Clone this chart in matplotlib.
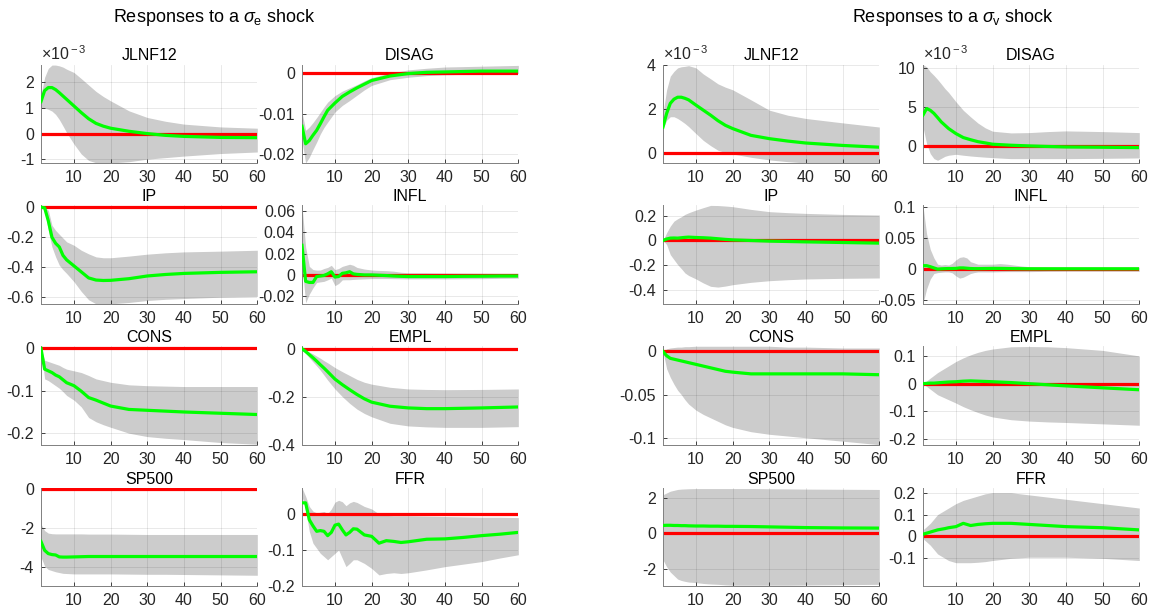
import matplotlib
matplotlib.use('Agg')
import matplotlib.pyplot as plt
from matplotlib.ticker import FuncFormatter

plt.rcParams['font.family'] = ['Liberation Sans', 'DejaVu Sans']
plt.rcParams['mathtext.fontset'] = 'custom'
plt.rcParams['mathtext.rm'] = 'Liberation Sans'
plt.rcParams['mathtext.it'] = 'Liberation Sans:italic'
plt.rcParams['axes.unicode_minus'] = False

h_coarse = [1, 2, 3, 4, 5, 6, 7, 8, 10, 12, 14, 16, 18, 20, 25, 30, 35, 40, 50, 60]
h_fine = [1, 2, 3, 4, 5, 6, 7, 8, 9, 10, 11, 12, 13, 14, 15, 16,
          18, 20, 22, 24, 26, 28, 30, 35, 40, 45, 50, 55, 60]

# ---- Responses to a sigma_e shock ----
# JLNF12 (units of 1e-3)
jlnf_e_med = [1.25, 1.68, 1.80, 1.80, 1.72, 1.60, 1.47, 1.34, 1.08, 0.82, 0.58, 0.40, 0.29, 0.21, 0.09, 0.0, -0.07, -0.11, -0.15, -0.16]
jlnf_e_hi = [1.5, 2.2, 2.55, 2.68, 2.68, 2.65, 2.6, 2.52, 2.39, 2.15, 1.9, 1.65, 1.45, 1.28, 0.89, 0.63, 0.48, 0.37, 0.26, 0.21]
jlnf_e_lo = [1.0, 1.0, 0.95, 0.88, 0.75, 0.55, 0.30, 0.04, -0.41, -0.80, -1.05, -1.14, -1.15, -1.15, -1.1, -1.0, -0.94, -0.88, -0.78, -0.72]
# DISAG
disag_e_med = [-0.0131, -0.0174, -0.0166, -0.0153, -0.0141, -0.0125, -0.0108, -0.0092, -0.0074, -0.0058, -0.0047, -0.0037, -0.0028, -0.0019, -0.0008, -0.0002, 0.0001, 0.0002, 0.0004, 0.0004]
disag_e_hi = [-0.0096, -0.0141, -0.0133, -0.0122, -0.0110, -0.0097, -0.0084, -0.0072, -0.0056, -0.0045, -0.0037, -0.0029, -0.0020, -0.0012, -0.0001, 0.0007, 0.0011, 0.0014, 0.0016, 0.0018]
disag_e_lo = [-0.0166, -0.0221, -0.0207, -0.0188, -0.0170, -0.0150, -0.0134, -0.0121, -0.0096, -0.0080, -0.0068, -0.0055, -0.0042, -0.0031, -0.0017, -0.0011, -0.0007, -0.0005, -0.0003, -0.0002]
# IP
ip_e_med = [0, -0.004, -0.09, -0.20, -0.24, -0.264, -0.32, -0.35, -0.39, -0.43, -0.47, -0.484, -0.487, -0.486, -0.475, -0.457, -0.447, -0.44, -0.433, -0.429]
ip_e_hi = [0, -0.002, -0.02, -0.12, -0.154, -0.18, -0.205, -0.23, -0.253, -0.286, -0.31, -0.33, -0.336, -0.336, -0.325, -0.312, -0.303, -0.297, -0.292, -0.286]
ip_e_lo = [0, -0.01, -0.154, -0.264, -0.33, -0.385, -0.415, -0.44, -0.495, -0.56, -0.615, -0.642, -0.642, -0.642, -0.633, -0.62, -0.612, -0.607, -0.598, -0.593]
# INFL (fine horizons)
infl_e_med = [0.0277, -0.006, -0.007, -0.007, -0.0015, -0.001, -0.0005, 0.001, 0.003, -0.002, -0.0015, 0.0015, 0.002, 0.003, 0.001, 0.0005,
              0.0, 0.0, -0.0003, -0.0006, -0.001, -0.0013, -0.0015, -0.0015, -0.0015, -0.0013, -0.0012, -0.001, -0.001]
infl_e_hi = [0.065, 0.026, 0.008, 0.005, 0.0045, 0.0046, 0.006, 0.007, 0.009, 0.005, 0.006, 0.008, 0.009, 0.010, 0.009, 0.007,
             0.0055, 0.0046, 0.0042, 0.004, 0.0035, 0.0025, 0.002, 0.002, 0.0018, 0.0017, 0.0016, 0.0015, 0.0015]
infl_e_lo = [0.010, -0.026, -0.018, -0.012, -0.007, -0.0065, -0.006, -0.0046, -0.003, -0.010, -0.008, -0.0046, -0.0045, -0.0045, -0.0042, -0.004,
             -0.0037, -0.0034, -0.0034, -0.0034, -0.0035, -0.0036, -0.0037, -0.0037, -0.0037, -0.0036, -0.0035, -0.0032, -0.003]
# CONS
cons_e_med = [0, -0.049, -0.053, -0.057, -0.063, -0.067, -0.074, -0.081, -0.088, -0.101, -0.116, -0.122, -0.129, -0.136, -0.144, -0.146, -0.148, -0.150, -0.153, -0.156]
cons_e_hi = [0, -0.028, -0.031, -0.034, -0.037, -0.040, -0.045, -0.049, -0.053, -0.057, -0.064, -0.072, -0.076, -0.080, -0.086, -0.088, -0.089, -0.090, -0.090, -0.090]
cons_e_lo = [0, -0.072, -0.076, -0.082, -0.088, -0.094, -0.102, -0.111, -0.122, -0.138, -0.163, -0.173, -0.180, -0.186, -0.2, -0.208, -0.212, -0.215, -0.222, -0.226]
# EMPL
empl_e_med = [0, -0.012, -0.025, -0.038, -0.052, -0.067, -0.081, -0.096, -0.127, -0.15, -0.171, -0.191, -0.209, -0.223, -0.24, -0.247, -0.25, -0.25, -0.247, -0.243]
empl_e_hi = [0, -0.007, -0.014, -0.022, -0.031, -0.04, -0.05, -0.059, -0.079, -0.096, -0.112, -0.128, -0.14, -0.148, -0.161, -0.168, -0.17, -0.171, -0.17, -0.168]
empl_e_lo = [0, -0.019, -0.038, -0.055, -0.072, -0.09, -0.11, -0.131, -0.168, -0.2, -0.228, -0.252, -0.27, -0.284, -0.311, -0.322, -0.326, -0.328, -0.328, -0.325]
# SP500
sp_e_med = [-2.69, -3.15, -3.32, -3.37, -3.39, -3.49, -3.5, -3.5, -3.49, -3.48, -3.47, -3.47, -3.47, -3.47, -3.47, -3.47, -3.47, -3.47, -3.47, -3.47]
sp_e_hi = [-1.79, -2.13, -2.26, -2.29, -2.3, -2.3, -2.3, -2.3, -2.3, -2.3, -2.31, -2.31, -2.31, -2.31, -2.32, -2.33, -2.33, -2.33, -2.33, -2.33]
sp_e_lo = [-3.49, -3.97, -4.14, -4.2, -4.26, -4.3, -4.34, -4.35, -4.37, -4.37, -4.37, -4.37, -4.37, -4.37, -4.38, -4.39, -4.39, -4.4, -4.42, -4.44]
# FFR (fine horizons)
ffr_e_med = [0.031, 0.031, -0.016, -0.033, -0.048, -0.046, -0.048, -0.06, -0.051, -0.031, -0.028, -0.044, -0.058, -0.051, -0.041, -0.042,
             -0.058, -0.062, -0.081, -0.074, -0.076, -0.079, -0.077, -0.07, -0.069, -0.065, -0.06, -0.056, -0.051]
ffr_e_hi = [0.073, 0.049, 0.021, 0.008, 0.003, 0.005, 0.007, 0.001, 0.014, 0.033, 0.038, 0.034, 0.023, 0.031, 0.035, 0.032,
            0.021, 0.014, 0.0, -0.004, -0.005, -0.005, -0.005, -0.006, -0.007, -0.008, -0.009, -0.009, -0.01]
ffr_e_lo = [0.049, 0.012, -0.048, -0.081, -0.095, -0.109, -0.118, -0.127, -0.118, -0.109, -0.1, -0.123, -0.146, -0.137, -0.127, -0.127,
            -0.137, -0.151, -0.169, -0.165, -0.163, -0.165, -0.163, -0.155, -0.146, -0.139, -0.132, -0.122, -0.113]

# ---- Responses to a sigma_v shock ----
# JLNF12 (units of 1e-3)
jlnf_v_med = [1.18, 1.8, 2.26, 2.45, 2.54, 2.54, 2.49, 2.42, 2.18, 1.95, 1.72, 1.47, 1.26, 1.11, 0.80, 0.65, 0.54, 0.45, 0.34, 0.26]
jlnf_v_hi = [1.8, 2.88, 3.5, 3.72, 3.88, 3.93, 3.95, 3.98, 3.88, 3.6, 3.38, 3.15, 3.0, 2.88, 2.42, 1.95, 1.72, 1.57, 1.37, 1.18]
jlnf_v_lo = [1.1, 1.49, 1.65, 1.65, 1.57, 1.46, 1.34, 1.2, 0.88, 0.57, 0.33, 0.12, 0.02, -0.05, -0.2, -0.32, -0.4, -0.46, -0.46, -0.46]
# DISAG (units of 1e-3)
disag_v_med = [3.97, 4.83, 4.6, 4.2, 3.66, 3.1, 2.67, 2.24, 1.59, 1.08, 0.8, 0.55, 0.39, 0.22, 0.09, 0.0, -0.07, -0.13, -0.17, -0.22]
disag_v_hi = [10.5, 10.2, 9.57, 9.1, 8.58, 8.0, 7.4, 6.9, 5.7, 4.6, 3.75, 2.95, 2.33, 1.9, 1.68, 1.72, 1.85, 1.94, 1.85, 1.72]
disag_v_lo = [2.46, 0.3, -0.99, -1.64, -1.85, -1.6, -1.34, -1.2, -1.08, -1.2, -1.3, -1.38, -1.45, -1.51, -1.64, -1.64, -1.64, -1.64, -1.6, -1.55]
# IP
ip_v_med = [0, 0.012, 0.019, 0.02, 0.019, 0.022, 0.025, 0.027, 0.024, 0.022, 0.019, 0.014, 0.009, 0.005, 0.0, -0.005, -0.008, -0.011, -0.016, -0.021]
ip_v_hi = [0, 0.062, 0.115, 0.155, 0.174, 0.19, 0.209, 0.222, 0.244, 0.263, 0.281, 0.28, 0.276, 0.271, 0.249, 0.231, 0.223, 0.217, 0.209, 0.204]
ip_v_lo = [0, -0.032, -0.113, -0.153, -0.193, -0.225, -0.26, -0.28, -0.308, -0.34, -0.367, -0.373, -0.365, -0.354, -0.335, -0.322, -0.314, -0.308, -0.303, -0.3]
# INFL (fine horizons)
infl_v_med = [0.0056, 0.0056, 0.004, 0.002, 0.0, 0.0005, 0.0008, 0.001, 0.001, 0.0012, 0.002, 0.002, 0.0015, 0.001, 0.0008, 0.0008,
              0.001, 0.0012, 0.0012, 0.001, 0.0008, 0.0007, 0.0006, 0.0006, 0.0006, 0.0006, 0.0006, 0.0006, 0.0006]
infl_v_hi = [0.103, 0.057, 0.032, 0.018, 0.008, 0.0067, 0.0075, 0.0067, 0.0095, 0.015, 0.019, 0.020, 0.018, 0.012, 0.01, 0.008,
             0.008, 0.008, 0.009, 0.008, 0.0065, 0.005, 0.004, 0.0035, 0.0033, 0.0033, 0.0033, 0.0033, 0.0033]
infl_v_lo = [-0.0557, -0.032, -0.016, -0.007, -0.0056, -0.005, -0.0045, -0.0045, -0.006, -0.011, -0.0145, -0.013, -0.01, -0.007, -0.0055, -0.0045,
             -0.0045, -0.0045, -0.0042, -0.004, -0.004, -0.004, -0.004, -0.0035, -0.0033, -0.0033, -0.0033, -0.0033, -0.0033]
# CONS
cons_v_med = [0, -0.005, -0.008, -0.009, -0.01, -0.011, -0.012, -0.013, -0.015, -0.017, -0.019, -0.021, -0.023, -0.024, -0.026, -0.026, -0.026, -0.026, -0.026, -0.027]
cons_v_hi = [0, 0.003, 0.004, 0.0045, 0.005, 0.005, 0.0055, 0.0055, 0.006, 0.006, 0.006, 0.006, 0.006, 0.006, 0.006, 0.006, 0.005, 0.005, 0.004, 0.004]
cons_v_lo = [0, -0.02, -0.03, -0.038, -0.045, -0.05, -0.056, -0.061, -0.068, -0.073, -0.077, -0.081, -0.085, -0.088, -0.093, -0.096, -0.098, -0.1, -0.104, -0.108]
# EMPL
empl_v_med = [0, 0.001, 0.002, 0.002, 0.003, 0.004, 0.005, 0.006, 0.007, 0.009, 0.01, 0.009, 0.008, 0.007, 0.004, 0.0, -0.004, -0.008, -0.015, -0.022]
empl_v_hi = [0, 0.01, 0.02, 0.03, 0.04, 0.048, 0.056, 0.064, 0.08, 0.093, 0.104, 0.113, 0.12, 0.125, 0.133, 0.134, 0.133, 0.13, 0.12, 0.1]
empl_v_lo = [0, -0.01, -0.02, -0.03, -0.04, -0.046, -0.052, -0.058, -0.07, -0.083, -0.094, -0.104, -0.113, -0.12, -0.13, -0.135, -0.138, -0.14, -0.145, -0.15]
# SP500
sp_v_med = [0.45, 0.46, 0.46, 0.45, 0.45, 0.44, 0.44, 0.43, 0.42, 0.42, 0.41, 0.41, 0.4, 0.4, 0.39, 0.37, 0.35, 0.33, 0.31, 0.3]
sp_v_hi = [2.2, 2.3, 2.4, 2.45, 2.5, 2.52, 2.53, 2.54, 2.55, 2.55, 2.55, 2.55, 2.55, 2.55, 2.55, 2.54, 2.53, 2.52, 2.51, 2.5]
sp_v_lo = [-1.5, -1.9, -2.2, -2.4, -2.6, -2.68, -2.73, -2.77, -2.8, -2.85, -2.88, -2.9, -2.93, -2.95, -2.95, -2.95, -2.95, -2.94, -2.92, -2.9]
# FFR
ffr_v_med = [0.01, 0.015, 0.02, 0.025, 0.03, 0.033, 0.036, 0.04, 0.045, 0.06, 0.05, 0.055, 0.058, 0.06, 0.06, 0.055, 0.05, 0.045, 0.04, 0.03]
ffr_v_hi = [0.03, 0.045, 0.06, 0.08, 0.1, 0.11, 0.12, 0.13, 0.15, 0.165, 0.175, 0.185, 0.195, 0.2, 0.2, 0.19, 0.18, 0.17, 0.15, 0.13]
ffr_v_lo = [-0.01, -0.025, -0.04, -0.06, -0.08, -0.09, -0.1, -0.11, -0.12, -0.12, -0.12, -0.118, -0.115, -0.11, -0.1, -0.095, -0.095, -0.095, -0.1, -0.11]

x_ticks = [10, 20, 30, 40, 50, 60]

# (title, horizons, median, lower, upper, ylim, yticks, x1e-3 label)
panels_e = [
    ('JLNF12', h_coarse, jlnf_e_med, jlnf_e_lo, jlnf_e_hi, (-1.15, 2.7), [-1, 0, 1, 2], True),
    ('DISAG', h_coarse, disag_e_med, disag_e_lo, disag_e_hi, (-0.0221, 0.002), [-0.02, -0.01, 0], False),
    ('IP', h_coarse, ip_e_med, ip_e_lo, ip_e_hi, (-0.642, 0.012), [-0.6, -0.4, -0.2, 0], False),
    ('INFL', h_fine, infl_e_med, infl_e_lo, infl_e_hi, (-0.027, 0.065), [-0.02, 0, 0.02, 0.04, 0.06], False),
    ('CONS', h_coarse, cons_e_med, cons_e_lo, cons_e_hi, (-0.227, 0.005), [-0.2, -0.1, 0], False),
    ('EMPL', h_coarse, empl_e_med, empl_e_lo, empl_e_hi, (-0.4, 0.01), [-0.4, -0.2, 0], False),
    ('SP500', h_coarse, sp_e_med, sp_e_lo, sp_e_hi, (-5.0, 0.09), [-4, -2, 0], False),
    ('FFR', h_fine, ffr_e_med, ffr_e_lo, ffr_e_hi, (-0.2, 0.073), [-0.2, -0.1, 0], False),
]
panels_v = [
    ('JLNF12', h_coarse, jlnf_v_med, jlnf_v_lo, jlnf_v_hi, (-0.46, 4.03), [0, 2, 4], True),
    ('DISAG', h_coarse, disag_v_med, disag_v_lo, disag_v_hi, (-2.2, 10.5), [0, 5, 10], True),
    ('IP', h_coarse, ip_v_med, ip_v_lo, ip_v_hi, (-0.507, 0.281), [-0.4, -0.2, 0, 0.2], False),
    ('INFL', h_fine, infl_v_med, infl_v_lo, infl_v_hi, (-0.056, 0.103), [-0.05, 0, 0.05, 0.1], False),
    ('CONS', h_coarse, cons_v_med, cons_v_lo, cons_v_hi, (-0.108, 0.006), [-0.1, -0.05, 0], False),
    ('EMPL', h_coarse, empl_v_med, empl_v_lo, empl_v_hi, (-0.22, 0.135), [-0.2, -0.1, 0, 0.1], False),
    ('SP500', h_coarse, sp_v_med, sp_v_lo, sp_v_hi, (-3.0, 2.6), [-2, 0, 2], False),
    ('FFR', h_coarse, ffr_v_med, ffr_v_lo, ffr_v_hi, (-0.227, 0.223), [-0.1, 0, 0.1, 0.2], False),
]

fig = plt.figure(figsize=(11.57, 6.15), dpi=100)

col_lefts = [[0.0354, 0.261], [0.573, 0.7977]]
row_bottoms = [0.735, 0.506, 0.277, 0.047]
ax_w, ax_h = 0.187, 0.16
dark = '#262626'
fmt = FuncFormatter(lambda v, pos: '%g' % v)

for group, panels in enumerate([panels_e, panels_v]):
    for idx, (name, hx, med, lo, hi, ylim, yticks, scaled) in enumerate(panels):
        row, col = divmod(idx, 2)
        ax = fig.add_axes([col_lefts[group][col], row_bottoms[row], ax_w, ax_h])
        ax.fill_between(hx, lo, hi, color='#cccccc', lw=0, zorder=1)
        ax.axhline(0, color='#ff0000', lw=2.3, zorder=2)
        ax.plot(hx, med, color='#00ff00', lw=2.3, zorder=3)
        ax.set_xlim(1, 60)
        ax.set_xticks(x_ticks)
        ax.set_ylim(*ylim)
        ax.set_yticks(yticks)
        ax.yaxis.set_major_formatter(fmt)
        ax.grid(True, color='k', alpha=0.1, lw=0.6)
        ax.set_axisbelow('line')
        for side in ['top', 'right']:
            ax.spines[side].set_visible(False)
        for side in ['left', 'bottom']:
            ax.spines[side].set_color('#808080')
            ax.spines[side].set_linewidth(0.7)
        ax.tick_params(direction='in', length=3, width=0.6, colors=dark,
                       labelsize=11.5, pad=5)
        ax.set_title(name, fontsize=11.5, pad=3, color='k')
        if scaled:
            ax.text(0.0, 1.015, r'$\times$10$^{\rm -3}$', transform=ax.transAxes,
                    fontsize=11.5, color=dark, ha='left', va='bottom')

fig.text(0.0977, 0.9647, r'Responses to a $\sigma_{\rm e}$ shock', fontsize=13,
         ha='left', va='baseline')
fig.text(0.7364, 0.9647, r'Responses to a $\sigma_{\rm v}$ shock', fontsize=13,
         ha='left', va='baseline')

fig.savefig('out.png', dpi=100)
